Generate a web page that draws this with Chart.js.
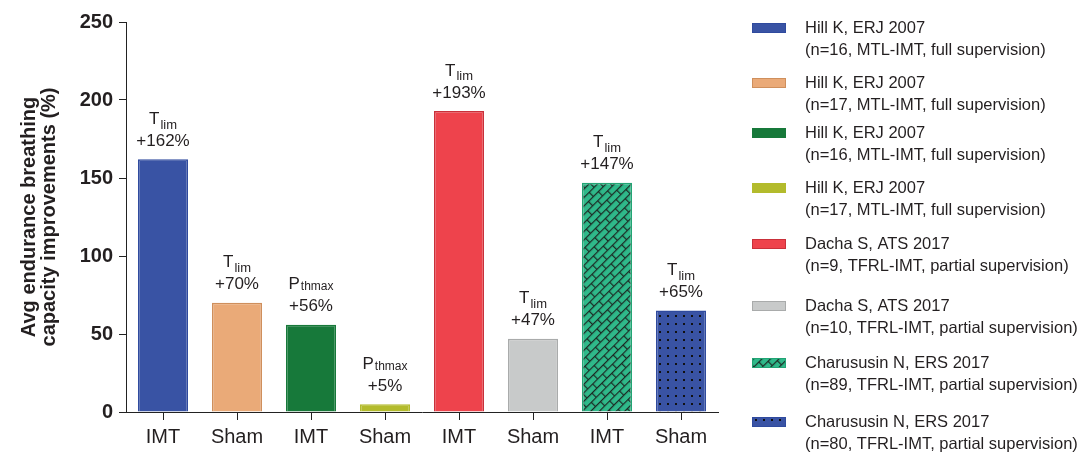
<!DOCTYPE html>
<html>
<head>
<meta charset="utf-8">
<script src="https://cdn.jsdelivr.net/npm/chart.js@4.4.1/dist/chart.umd.min.js"></script>
<style>
    html, body { margin: 0; padding: 0; background: #fff; }
    #wrap { width: 1084px; height: 452px; }
</style>
</head>
<body>
<div id="wrap"><canvas id="myChart" width="1084" height="452"></canvas></div>
<script>
const groups = ["IMT", "Sham", "IMT", "Sham", "IMT", "Sham", "IMT", "Sham"];
const improvements = [162, 70, 56, 5, 193, 47, 147, 65];
const outcomeMain = ["T", "T", "P", "P", "T", "T", "T", "T"];
const outcomeSub = ["lim", "lim", "thmax", "thmax", "lim", "lim", "lim", "lim"];
const studies = [
    "Hill K, ERJ 2007", "Hill K, ERJ 2007", "Hill K, ERJ 2007", "Hill K, ERJ 2007",
    "Dacha S, ATS 2017", "Dacha S, ATS 2017", "Charususin N, ERS 2017", "Charususin N, ERS 2017"
];
const studyDetails = [
    "(n=16, MTL-IMT, full supervision)",
    "(n=17, MTL-IMT, full supervision)",
    "(n=16, MTL-IMT, full supervision)",
    "(n=17, MTL-IMT, full supervision)",
    "(n=9, TFRL-IMT, partial supervision)",
    "(n=10, TFRL-IMT, partial supervision)",
    "(n=89, TFRL-IMT, partial supervision)",
    "(n=80, TFRL-IMT, partial supervision)"
];
const yTicks = [0, 50, 100, 150, 200, 250];

const FONT = "'Liberation Sans', Arial, Helvetica, sans-serif";
const TEXT = "#231f20";

// brick texture, turned 45 degrees
function brickPattern() {
    const c = document.createElement("canvas");
    c.width = 14; c.height = 12;
    const g = c.getContext("2d");
    g.fillStyle = "#2fb98a";
    g.fillRect(0, 0, 14, 12);
    g.fillStyle = "#1c2a24";
    g.fillRect(0, 0, 14, 1.2);
    g.fillRect(0, 6, 14, 1.2);
    g.fillRect(0, 0, 1.2, 6);
    g.fillRect(7, 6, 1.2, 6);
    const p = g.createPattern(c, "repeat");
    p.setTransform(new DOMMatrix().rotate(-45));
    return p;
}

function dotPattern() {
    const c = document.createElement("canvas");
    c.width = 8; c.height = 8;
    const g = c.getContext("2d");
    g.fillStyle = "#3953a4";
    g.fillRect(0, 0, 8, 8);
    g.fillStyle = "#111";
    g.fillRect(3, 3, 2, 2);
    return g.createPattern(c, "repeat");
}

const fills = ["#3953a4", "#eaaa78", "#17793a", "#b3bb2c", "#ee434c", "#c8caca", brickPattern(), dotPattern()];
const borders = ["#2f4a9e", "#cf8f5c", "#17793a", "#b3bb2c", "#c9303a", "#a9abab", "#22a474", "#2f4a9e"];

// outcome measure and percentage above each bar
const barLabels = {
    id: "barLabels",
    afterDatasetsDraw(chart) {
        const ctx = chart.ctx;
        const meta = chart.getDatasetMeta(0);
        ctx.save();
        ctx.fillStyle = TEXT;
        ctx.textBaseline = "middle";
        meta.data.forEach((bar, i) => {
            const x = bar.x;
            const top = bar.y;
            ctx.font = "17px " + FONT;
            ctx.textAlign = "center";
            ctx.fillText("+" + improvements[i] + "%", x, top - 18);

            const main = outcomeMain[i];
            const sub = outcomeSub[i];
            const isLim = sub === "lim";
            const subFont = (isLim ? "13px " : "12px ") + FONT;
            ctx.font = "17px " + FONT;
            const wMain = ctx.measureText(main).width;
            ctx.font = subFont;
            const wSub = ctx.measureText(sub).width;
            const start = x - (wMain + wSub + 1) / 2;
            const y = top - 40;
            ctx.textAlign = "left";
            ctx.font = "17px " + FONT;
            ctx.fillText(main, start, y);
            ctx.font = subFont;
            ctx.fillText(sub, start + wMain + 1, isLim ? y + 6 : y + 2);
        });
        ctx.restore();
    }
};

// study legend on the right
const legendRowY = [28, 83, 133, 188, 244, 306, 363, 422];
const studyLegend = {
    id: "studyLegend",
    afterDraw(chart) {
        const ctx = chart.ctx;
        ctx.save();
        ctx.textBaseline = "middle";
        ctx.textAlign = "left";
        studies.forEach((name, i) => {
            const y = legendRowY[i];
            ctx.fillStyle = fills[i];
            ctx.fillRect(752, y - 5, 34, 10);
            ctx.strokeStyle = borders[i];
            ctx.lineWidth = 1;
            ctx.strokeRect(752.5, y - 4.5, 33, 9);
            ctx.fillStyle = TEXT;
            ctx.font = "16.5px " + FONT;
            ctx.fillText(name, 805, y);
            ctx.fillText(studyDetails[i], 805, y + 22);
        });
        ctx.restore();
    }
};

const ctx = document.getElementById("myChart");

new Chart(ctx, {
    type: "bar",
    data: {
        labels: groups,
        datasets: [{
            data: improvements,
            backgroundColor: fills,
            borderColor: borders,
            borderWidth: 1.5,
            barPercentage: 0.676,
            categoryPercentage: 1
        }]
    },
    options: {
        responsive: false,
        animation: false,
        layout: { padding: { top: 22, right: 366, bottom: 0, left: 0 } },
        plugins: {
            legend: { display: false },
            tooltip: { enabled: false }
        },
        scales: {
            x: {
                grid: {
                    offset: false,
                    drawOnChartArea: false,
                    tickLength: 8,
                    color: "#222"
                },
                border: { color: "#222", width: 1 },
                ticks: {
                    color: TEXT,
                    padding: 5,
                    font: { family: FONT, size: 20 }
                },
                afterFit(scale) { scale.height = 40; }
            },
            y: {
                min: 0,
                max: 250,
                afterBuildTicks(scale) {
                    scale.ticks = yTicks.map(v => ({ value: v }));
                },
                grid: {
                    drawOnChartArea: false,
                    tickLength: 7,
                    color: "#222"
                },
                border: { color: "#222", width: 1 },
                ticks: {
                    color: TEXT,
                    padding: 6,
                    font: { family: FONT, size: 20, weight: "bold" }
                },
                title: {
                    display: true,
                    text: ["Avg endurance breathing", "capacity improvements (%)"],
                    color: TEXT,
                    padding: { top: 19, bottom: 0 },
                    font: { family: FONT, size: 20, weight: "bold", lineHeight: 1.0 }
                },
                afterFit(scale) { scale.width = 126; }
            }
        }
    },
    plugins: [barLabels, studyLegend]
});
</script>
</body>
</html>
